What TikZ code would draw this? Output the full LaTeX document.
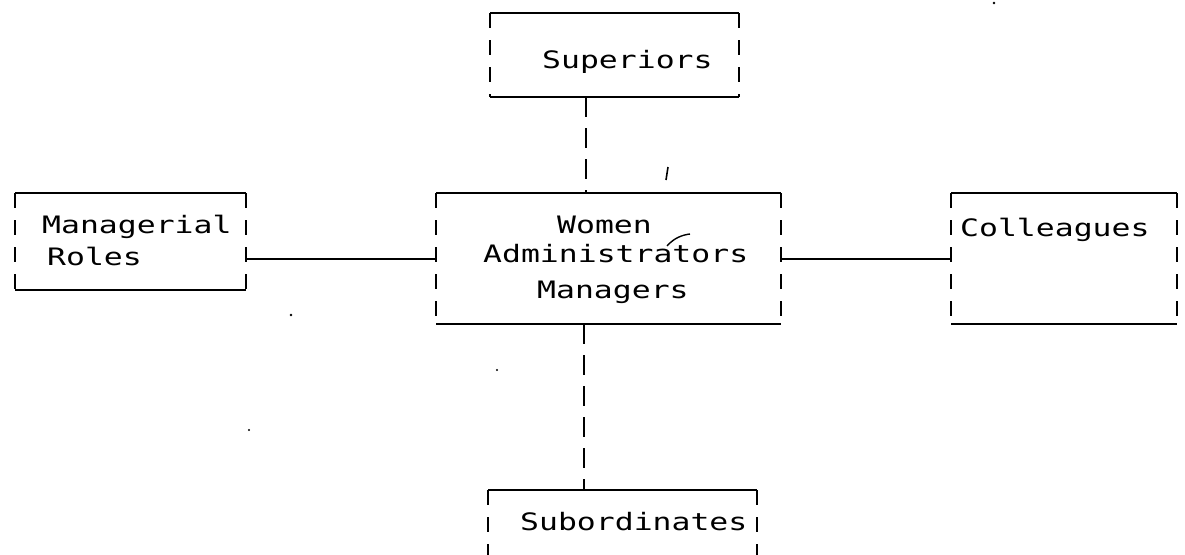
\documentclass[tikz,border=0pt]{standalone}
\usepackage{fontspec}
\newfontfamily\dotfont[FakeStretch=1.31]{DejaVu Sans Mono}
\usetikzlibrary{calc}
\tikzset{
  frame/.style={draw=none, rectangle, inner sep=0pt, outer sep=0pt},
  hedge/.style={line width=2.2pt, black},
  vedge/.style={line width=2.2pt, black, dash pattern=on 15pt off 12pt},
  vlink/.style={line width=2.2pt, black, dash pattern=on 20pt off 11pt},
  hlink/.style={line width=2pt, black},
  lbl/.style={anchor=base west, inner sep=0pt, font=\dotfont\fontsize{24}{24}\selectfont},
  speck/.style={fill=black, draw=none},
}
\newcommand\dmframe[1]{%
  \draw[hedge] (#1.north west) -- (#1.north east);
  \draw[hedge] (#1.south west) -- (#1.south east);
  \draw[vedge] (#1.north west) -- (#1.south west);
  \draw[vedge] (#1.north east) -- (#1.south east);}
\begin{document}
\begin{tikzpicture}[x=1pt, y=-1pt]
\clip (0,0) rectangle (1185,554);
\fill[white] (0,0) rectangle (1185,554);

% boxes
\node[frame, minimum width=249pt, minimum height=84pt]  (sup) at (614.5,55) {};
\node[frame, minimum width=345pt, minimum height=131pt] (ctr) at (608.5,258.5) {};
\node[frame, minimum width=231pt, minimum height=97pt]  (mgr) at (130.5,241.5) {};
\node[frame, minimum width=226pt, minimum height=131pt] (col) at (1064,258.5) {};
\node[frame, minimum width=269pt, minimum height=100pt] (sub) at (622.5,540) {};

\dmframe{sup}
\dmframe{ctr}
\dmframe{mgr}
\dmframe{col}
\dmframe{sub}

% labels
\node[lbl] (tsup) at (542,68)  {Superiors};
\node[lbl] (tw)   at (557,233) {Women};
\node[lbl] (ta)   at (483,262) {Administrators};
\node[lbl] (tm)   at (537,298) {Managers};
\node[lbl] (tmg)  at (42,233)  {Managerial};
\node[lbl] (tro)  at (47,265)  {Roles};
\node[lbl] (tco)  at (960,236) {Colleagues};
\node[lbl] (tsu)  at (520,530) {Subordinates};

% connectors
\draw[vlink] ($(sup.south west)+(96,0)$) -- ($(ctr.north west)+(150,0)$);
\draw[vlink] ($(ctr.south west)+(148,0)$) -- ($(sub.north west)+(96,0)$);
\draw[hlink] (mgr.east |- ctr.west) -- (ctr.west);
\draw[hlink] (ctr.east) -- (col.west);

% stray marks of the print
\draw[line width=1.6pt] (668,167) -- (666,180);
\draw[line width=1.4pt] (667,246) .. controls (674,238) and (682,235) .. (690,234);
\fill[speck] (994,3) circle (1.3pt);
\fill[speck] (291,315) circle (1.3pt);
\fill[speck] (497,370) circle (1.1pt);
\fill[speck] (249,430) circle (1.1pt);
\end{tikzpicture}
\end{document}
